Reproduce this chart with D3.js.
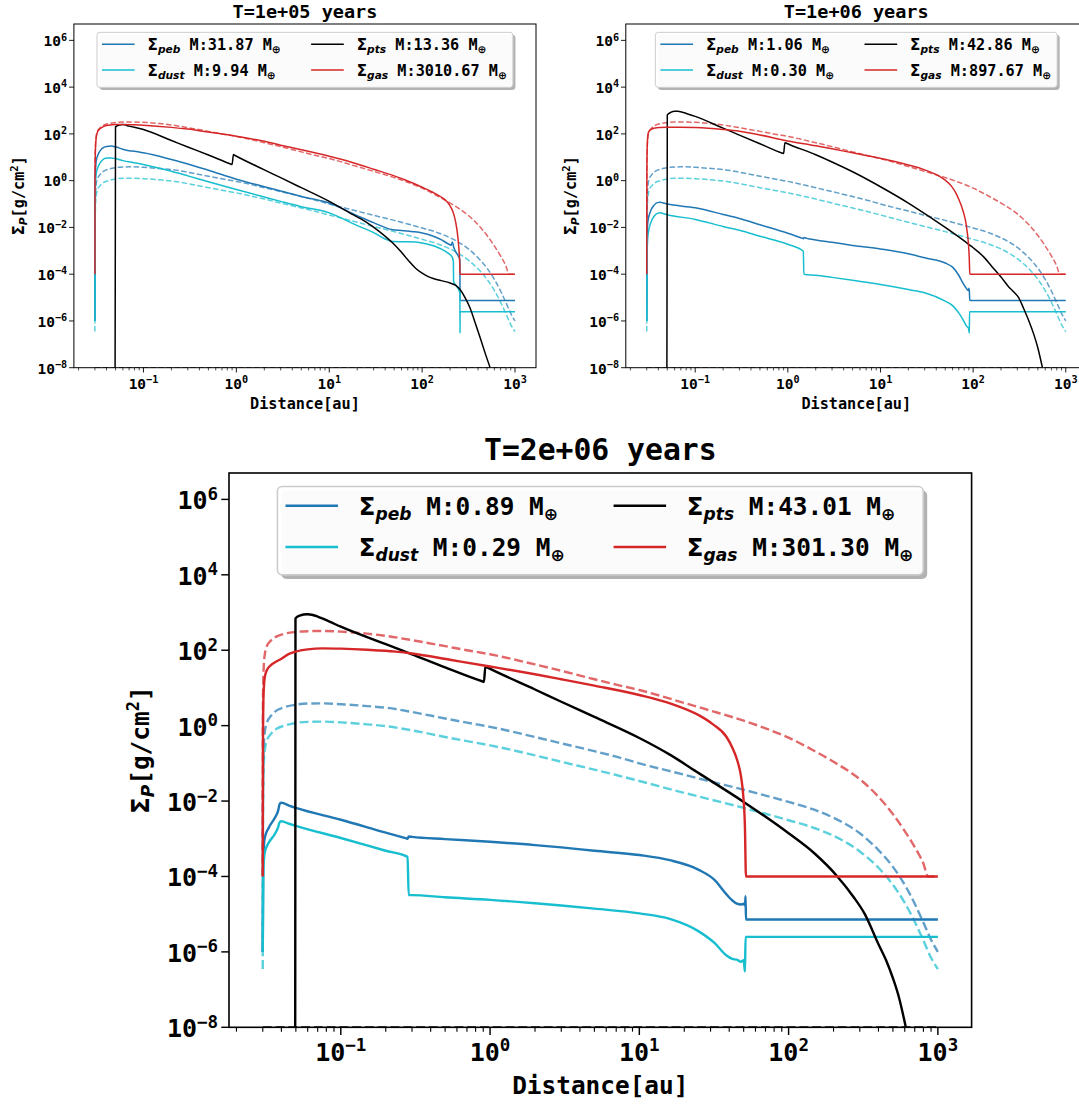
<!DOCTYPE html>
<html>
<head>
<meta charset="utf-8">
<script src="https://cdn.jsdelivr.net/npm/d3@7"></script>
<style>
  body { margin: 0; background: #fff; }
  text { white-space: pre; }
</style>
</head>
<body>
<div id="chart"></div>
<script>
// ---------- Data ----------
const titles = ['T=1e+05 years', 'T=1e+06 years', 'T=2e+06 years'];
const xTicks = [1e-1, 1e0, 1e1, 1e2, 1e3];
const yTicks = [1e-8, 1e-6, 1e-4, 1e-2, 1e0, 1e2, 1e4, 1e6];
const seriesNames = ['peb', 'dust', 'pts', 'gas'];
const colors = ['#1f77b4', '#17becf', '#000000', '#d62728'];

// legend masses [Earth masses], one per snapshot
const massPeb = ['31.87', '1.06', '0.89'];
const massDust = ['9.94', '0.30', '0.29'];
const massPts = ['13.36', '42.86', '43.01'];
const massGas = ['3010.67', '897.67', '301.30'];

// initial profiles (dashed), [r au, sigma g/cm2]
const gasInit = [[0.03,1e-4],[0.0301,5],[0.0305,40],[0.031,80],[0.032,130],[0.034,180],[0.037,230],[0.042,275],[0.05,305],[0.06,320],[0.075,325],[0.1,312],[0.15,275],[0.2,240],[0.3,185],[0.5,128],[0.7,100],[1,78],[2,42],[3,28.5],[5,17],[7,12.2],[10,8.8],[20,4],[30,2.5],[50,1.35],[70,0.85],[100,0.48],[150,0.21],[200,0.11],[300,0.038],[400,0.013],[500,4.5e-3],[600,1.6e-3],[700,6e-4],[800,2.2e-4],[860,1e-4],[1000,1e-4]];
const pebInit = [[0.03,1e-6],[0.0301,0.01],[0.0305,0.3],[0.031,0.7],[0.032,1.2],[0.034,1.8],[0.037,2.5],[0.042,3.1],[0.05,3.6],[0.06,3.85],[0.075,3.9],[0.1,3.7],[0.15,3.3],[0.2,3.0],[0.3,2.3],[0.5,1.55],[0.7,1.2],[1,0.93],[2,0.5],[3,0.34],[5,0.21],[7,0.15],[10,0.1],[20,0.05],[30,0.033],[50,0.02],[70,0.014],[100,9.5e-3],[150,5.8e-3],[200,3.6e-3],[300,1.4e-3],[400,5e-4],[500,1.8e-4],[600,6e-5],[700,1.9e-5],[800,6e-6],[900,2.1e-6],[1000,1e-6]];
const dustInit = [[0.03,3.5e-7],[0.0301,3e-3],[0.0305,0.1],[0.031,0.23],[0.032,0.4],[0.034,0.6],[0.037,0.82],[0.042,1.0],[0.05,1.18],[0.06,1.26],[0.075,1.28],[0.1,1.22],[0.15,1.08],[0.2,0.97],[0.3,0.75],[0.5,0.5],[0.7,0.39],[1,0.3],[2,0.163],[3,0.11],[5,0.068],[7,0.049],[10,0.034],[20,0.0165],[30,0.011],[50,6.6e-3],[70,4.6e-3],[100,3.1e-3],[150,1.9e-3],[200,1.2e-3],[300,4.6e-4],[400,1.7e-4],[500,6e-5],[600,2e-5],[700,6.3e-6],[800,2e-6],[900,7e-7],[1000,3.5e-7]];
const ptsInit = [[0.03,1e-8],[1000,1e-8]];

// T = 1e5 yr
const peb1e5 = [[0.03,1e-6],[0.0302,0.5],[0.0305,3],[0.031,7],[0.033,15],[0.036,24],[0.04,29],[0.045,30],[0.05,28],[0.06,22],[0.07,19],[0.08,18],[0.1,15.5],[0.2,8],[0.3,5.2],[0.5,2.8],[1,1.15],[2,0.55],[3,0.36],[5,0.21],[10,0.11],[20,0.032],[30,0.016],[48,8e-3],[60,7.4e-3],[80,6.6e-3],[100,5.8e-3],[130,4.3e-3],[160,3e-3],[190,2e-3],[203,1.75e-3],[205,1.7e-3],[212,2.4e-3],[218,1.5e-3],[230,9e-4],[245,6e-4],[255,4e-4],[256,7.5e-6],[1000,7.5e-6]];
const dust1e5 = [[0.03,1e-6],[0.0302,0.1],[0.0305,0.8],[0.031,2],[0.033,4.5],[0.036,7.5],[0.04,9.2],[0.045,9.4],[0.05,8.8],[0.06,7.2],[0.08,5.8],[0.1,4.9],[0.2,2.5],[0.3,1.6],[0.5,0.9],[1,0.42],[2,0.2],[3,0.13],[5,0.077],[10,0.042],[20,0.012],[30,6e-3],[40,3.2e-3],[48,2.5e-3],[60,2.45e-3],[85,2.4e-3],[110,2e-3],[135,1.6e-3],[160,1.2e-3],[190,8e-4],[210,5.5e-4],[217,3.4e-4],[218,5e-5],[235,3e-5],[250,2e-5],[255,1.5e-5],[256,3e-7],[256.5,2.5e-6],[1000,2.5e-6]];
const pts1e5 = [[0.0495,1e-8],[0.05,200],[0.055,240],[0.06,250],[0.07,215],[0.1,153],[0.2,52],[0.3,27.5],[0.5,12.5],[0.895,4.94],[0.9,4.9],[0.93,13],[0.935,12.85],[2,2.9],[3,1.34],[5,0.5],[10,0.13],[18,0.035],[25,0.017],[35,6.5e-3],[48,2.2e-3],[58,1.0e-3],[66,5.5e-4],[74,3.2e-4],[85,1.8e-4],[100,1.1e-4],[115,8e-5],[132,6.5e-5],[160,5.3e-5],[200,4.2e-5],[230,3.3e-5],[256,2.2e-5],[290,1e-5],[329,3.5e-6],[370,9e-7],[420,2e-7],[470,5e-8],[540,1e-8]];
const gas1e5 = [[0.03,1e-4],[0.0301,2],[0.0305,30],[0.031,70],[0.032,120],[0.034,165],[0.037,205],[0.042,235],[0.05,250],[0.06,252],[0.08,245],[0.1,235],[0.2,190],[0.3,160],[0.5,120],[1,80],[2,48],[3,33],[5,21],[10,11],[20,5.2],[30,3.1],[50,1.6],[66,1.06],[100,0.52],[130,0.32],[160,0.2],[184,0.13],[205,0.07],[220,0.035],[237,8e-3],[248,1.5e-3],[254,3e-4],[256,1e-4],[1000,1e-4]];

// T = 1e6 yr
const peb1e6 = [[0.03,1e-6],[0.0302,3e-3],[0.0305,0.01],[0.031,0.02],[0.033,0.05],[0.036,0.09],[0.039,0.115],[0.042,0.12],[0.045,0.11],[0.05,0.1],[0.1,0.069],[0.2,0.036],[0.3,0.024],[0.5,0.013],[1,5.6e-3],[1.46,3.33e-3],[1.47,3.3e-3],[1.5,3.7e-3],[1.6,3.4e-3],[2,2.9e-3],[3,2.3e-3],[5,1.7e-3],[10,1.2e-3],[20,7.5e-4],[30,5e-4],[50,3e-4],[60,2e-4],[70,9e-5],[78,4e-5],[85,2.4e-5],[89,2e-5],[90,2.5e-5],[91,2e-5],[92,7.5e-6],[1000,7.5e-6]];
const dust1e6 = [[0.03,1e-6],[0.0302,5e-4],[0.0305,2e-3],[0.031,5e-3],[0.033,0.015],[0.036,0.03],[0.039,0.04],[0.042,0.042],[0.045,0.039],[0.05,0.035],[0.1,0.022],[0.2,0.011],[0.3,7.5e-3],[0.5,4.2e-3],[1,1.9e-3],[1.47,9.6e-4],[1.49,1e-4],[2,9e-5],[3,7.3e-5],[5,5.5e-5],[10,3.6e-5],[20,2.2e-5],[30,1.6e-5],[50,7e-6],[60,4.5e-6],[70,2.2e-6],[78,1.1e-6],[85,6e-7],[89,5e-7],[91,3e-7],[91.5,2.5e-6],[1000,2.5e-6]];
const pts1e6 = [[0.0495,1e-8],[0.05,650],[0.055,850],[0.06,930],[0.065,920],[0.08,750],[0.1,560],[0.2,176],[0.3,89],[0.5,38],[0.895,14.5],[0.9,14.4],[0.93,42],[0.935,41.6],[2,12.8],[3,6.3],[5,2.4],[10,0.55],[20,0.11],[30,0.039],[50,0.01],[70,3.9e-3],[91,1.8e-3],[100,1.35e-3],[130,5.5e-4],[160,2.1e-4],[200,7.5e-5],[240,3e-5],[280,1.6e-5],[310,1e-5],[350,3.5e-6],[400,1e-6],[450,2.8e-7],[500,7e-8],[560,1e-8]];
const gas1e6 = [[0.03,1e-4],[0.0301,2],[0.0303,20],[0.0306,60],[0.031,100],[0.032,135],[0.034,160],[0.037,178],[0.042,188],[0.05,193],[0.07,194],[0.1,188],[0.2,155],[0.3,130],[0.5,90],[1,50],[2,31],[3,23],[5,15.5],[7,12],[10,9],[15,6.3],[20,4.7],[30,2.9],[40,1.8],[50,1.05],[58,0.6],[65,0.3],[70,0.16],[75,0.08],[80,0.035],[84,0.014],[87,5e-3],[89.5,1.5e-3],[91,4e-4],[92,1e-4],[1000,1e-4]];

// T = 2e6 yr
const peb2e6 = [[0.03,1e-6],[0.0302,2e-4],[0.0305,6e-4],[0.031,1.1e-3],[0.033,2e-3],[0.036,3.5e-3],[0.038,5.5e-3],[0.039,8.5e-3],[0.04,9e-3],[0.045,7.6e-3],[0.05,6.6e-3],[0.1,3.2e-3],[0.2,1.45e-3],[0.275,1.02e-3],[0.28,1.0e-3],[0.285,1.15e-3],[0.3,1.12e-3],[0.5,9.8e-4],[1,8.3e-4],[2,6.8e-4],[3,5.9e-4],[5,4.8e-4],[10,3.7e-4],[16,2.7e-4],[25,1.5e-4],[32,8e-5],[38,3.5e-5],[42,2.3e-5],[45,1.9e-5],[48,1.8e-5],[50,1.9e-5],[51,1.7e-5],[51.5,3e-5],[51.8,7.2e-6],[1000,7.2e-6]];
const dust2e6 = [[0.03,1e-6],[0.0302,8e-5],[0.0305,2.5e-4],[0.031,4.5e-4],[0.033,8e-4],[0.036,1.3e-3],[0.038,2e-3],[0.039,2.8e-3],[0.04,2.9e-3],[0.045,2.5e-3],[0.05,2.2e-3],[0.1,1.05e-3],[0.2,4.8e-4],[0.28,3.3e-4],[0.285,3.2e-5],[0.3,3.2e-5],[0.5,2.8e-5],[1,2.4e-5],[2,1.95e-5],[3,1.7e-5],[5,1.4e-5],[10,1.05e-5],[16,7.5e-6],[25,3.5e-6],[32,1.7e-6],[38,8.3e-7],[42,6.5e-7],[45,6.2e-7],[48,5.5e-7],[50,6e-7],[51,3e-7],[51.5,2.5e-6],[1000,2.5e-6]];
const pts2e6 = [[0.0495,1e-8],[0.0497,700],[0.053,830],[0.0597,900],[0.065,860],[0.07,780],[0.084,575],[0.1,420],[0.2,145],[0.3,78],[0.5,35],[0.905,14.6],[0.91,14.5],[0.93,37],[0.935,36.6],[2,9.1],[3,4.3],[5,1.7],[10,0.47],[16,0.17],[25,0.055],[50,9.5e-3],[100,1.4e-3],[150,4e-4],[210,1.05e-4],[270,3e-5],[322,1.05e-5],[400,1.6e-6],[450,6e-7],[500,2e-7],[550,6e-8],[610,1e-8]];
const gas2e6 = [[0.03,1e-4],[0.0301,0.5],[0.0303,5],[0.0306,12],[0.031,20],[0.032,30],[0.034,40],[0.037,50],[0.039,56],[0.045,80],[0.05,92],[0.06,105],[0.075,112],[0.1,110],[0.15,103],[0.233,92],[0.3,82],[0.55,55],[1,37],[2,23],[3,17],[5,11.5],[10,6.5],[16.4,3.8],[25,1.9],[31,1.1],[38.4,0.5],[42,0.26],[45.6,0.11],[48,0.045],[49.6,0.015],[51,2e-3],[51.8,1e-4],[1000,1e-4]];

// ---------- Layout ----------
const MONO = "'DejaVu Sans Mono', monospace";
const SANS = "'DejaVu Sans', sans-serif";

const panels = [
  { left: 73.9, right: 536, top: 24, bottom: 367.7, s: 1, titleGap: 6.5, tickFs: 14.5,
    series: [peb1e5, dust1e5, pts1e5, gas1e5] },
  { left: 625.8, right: 1086.7, top: 24, bottom: 367.7, s: 1, titleGap: 6.5, tickFs: 14.5,
    series: [peb1e6, dust1e6, pts1e6, gas1e6] },
  { left: 229, right: 971.6, top: 473, bottom: 1027.3, s: 1.607, titleGap: 13.4, tickFs: 25,
    series: [peb2e6, dust2e6, pts2e6, gas2e6] }
];
const initSeries = [pebInit, dustInit, ptsInit, gasInit];
const masses = [massPeb, massDust, massPts, massGas];

const svg = d3.select('#chart')
  .append('svg')
  .attr('width', 1079)
  .attr('height', 1104)

// writes mathtext-like runs (sub/superscripts) into a text element
function addRich(textSel, parts, fs) {
  let shift = 0;
  parts.forEach(p => {
    const target = p.mode === 'sub' ? 0.2 * fs : p.mode === 'sup' ? -0.38 * fs : 0;
    textSel.append('tspan')
      .attr('dy', target - shift)
      .attr('font-size', p.mode ? fs * 0.7 : fs)
      .attr('font-family', p.sans ? SANS : MONO)
      .attr('font-style', p.italic ? 'italic' : 'normal')
      .text(p.t);
    shift = target;
  });
}

function sup(v) {
  const e = Math.round(Math.log10(v));
  return (e < 0 ? '\u2212' : '') + Math.abs(e);
}

panels.forEach((p, i) => {
  const s = p.s;
  const labelFs = 15.2 * s, tickFs = p.tickFs, titleFs = 18.5 * s;
  const lw = 1.5 * s;

  const xScale = d3.scaleLog()
    .domain([10 ** -1.749, 10 ** 3.226])
    .range([p.left, p.right])
  const yScale = d3.scaleLog()
    .domain([1e-8, 10 ** 6.7])
    .range([p.bottom, p.top])

  const g = svg.append('g').attr('font-weight', 'bold')

  g.append('clipPath').attr('id', 'clip' + i)
    .append('rect')
    .attr('x', p.left).attr('y', p.top)
    .attr('width', p.right - p.left).attr('height', p.bottom - p.top)

  const lineGenerator = d3.line()
    .x(d => xScale(d[0]))
    .y(d => yScale(d[1]))
    .curve(d3.curveMonotoneX)

  const plot = g.append('g').attr('clip-path', `url(#clip${i})`)

  // initial profiles, dashed
  initSeries.forEach((data, k) => {
    plot.append('path')
      .datum(data)
      .attr('d', lineGenerator)
      .attr('fill', 'none')
      .attr('stroke', colors[k])
      .attr('stroke-opacity', 0.7)
      .attr('stroke-width', lw)
      .attr('stroke-dasharray', `${3.7 * lw},${1.6 * lw}`)
  })

  // current profiles
  p.series.forEach((data, k) => {
    plot.append('path')
      .datum(data)
      .attr('d', lineGenerator)
      .attr('fill', 'none')
      .attr('stroke', colors[k])
      .attr('stroke-width', lw)
      .attr('stroke-linejoin', 'round')
  })

  // spines
  g.append('rect')
    .attr('x', p.left).attr('y', p.top)
    .attr('width', p.right - p.left).attr('height', p.bottom - p.top)
    .attr('fill', 'none')
    .attr('stroke', '#000')
    .attr('stroke-width', 1 * s)

  // x ticks (major + minor)
  const minor = xScale.ticks().filter(v => {
    const m = v / 10 ** Math.floor(Math.log10(v) + 1e-9);
    return Math.abs(m - 1) > 1e-6;
  });
  minor.forEach(v => {
    g.append('line')
      .attr('x1', xScale(v)).attr('x2', xScale(v))
      .attr('y1', p.bottom).attr('y2', p.bottom + 2.7 * s)
      .attr('stroke', '#000').attr('stroke-width', 0.7 * s)
  })
  xTicks.forEach(v => {
    g.append('line')
      .attr('x1', xScale(v)).attr('x2', xScale(v))
      .attr('y1', p.bottom).attr('y2', p.bottom + 4.8 * s)
      .attr('stroke', '#000').attr('stroke-width', 0.9 * s)
    const t = g.append('text')
      .attr('x', xScale(v))
      .attr('y', p.bottom + 20.8 * s)
      .attr('text-anchor', 'middle')
    addRich(t, [{ t: '10' }, { t: sup(v), mode: 'sup' }], tickFs)
  })

  // y ticks
  yTicks.forEach(v => {
    g.append('line')
      .attr('x1', p.left - 4.8 * s).attr('x2', p.left)
      .attr('y1', yScale(v)).attr('y2', yScale(v))
      .attr('stroke', '#000').attr('stroke-width', 0.9 * s)
    const t = g.append('text')
      .attr('x', p.left - 6.8 * s)
      .attr('y', yScale(v) + 0.4 * tickFs)
      .attr('text-anchor', 'end')
    addRich(t, [{ t: '10' }, { t: sup(v), mode: 'sup' }], tickFs)
  })

  // title
  g.append('text')
    .attr('x', (p.left + p.right) / 2)
    .attr('y', p.top - p.titleGap)
    .attr('text-anchor', 'middle')
    .attr('font-family', MONO)
    .attr('font-size', titleFs)
    .text(titles[i])

  // x label
  g.append('text')
    .attr('x', (p.left + p.right) / 2)
    .attr('y', p.bottom + 41.6 * s)
    .attr('text-anchor', 'middle')
    .attr('font-family', MONO)
    .attr('font-size', labelFs)
    .text('Distance[au]')

  // y label
  const yl = g.append('text')
    .attr('transform', `translate(${p.left - 50 * s}, ${(p.top + p.bottom) / 2}) rotate(-90)`)
    .attr('text-anchor', 'middle')
  addRich(yl, [
    { t: '\u03A3', sans: true },
    { t: 'P', sans: true, italic: true, mode: 'sub' },
    { t: '[g/cm' },
    { t: '2', mode: 'sup' },
    { t: ']' }
  ], labelFs)

  // legend
  const f = labelFs;
  const lg = g.append('g')
  const shadow = lg.append('rect')
  const frame = lg.append('rect')
  const texts = seriesNames.map((name, k) => {
    const t = lg.append('text')
    addRich(t, [
      { t: '\u03A3', sans: true },
      { t: name, sans: true, italic: true, mode: 'sub' },
      { t: ` M:${masses[k][i]} M` },
      { t: '\u2295', sans: true, mode: 'sub' }
    ], f)
    return t;
  });
  const widths = texts.map(t => t.node().getComputedTextLength());
  const col1W = Math.max(widths[0], widths[1]);
  const col2W = Math.max(widths[2], widths[3]);
  const handleL = 2.15 * f, lPad = 0.33 * f, htPad = 0.85 * f, colSp = 2 * f, rPad = 0.4 * f;
  const boxW = lPad + handleL + htPad + col1W + colSp + handleL + htPad + col2W + rPad;
  const boxH = 3.62 * f;
  const bx = (p.left + p.right) / 2 - boxW / 2;
  const by = p.top + 0.55 * f;
  shadow
    .attr('x', bx + 2.5 * s).attr('y', by + 2.5 * s)
    .attr('width', boxW).attr('height', boxH)
    .attr('rx', 0.2 * f)
    .attr('fill', '#000').attr('fill-opacity', 0.3)
  frame
    .attr('x', bx).attr('y', by)
    .attr('width', boxW).attr('height', boxH)
    .attr('rx', 0.2 * f)
    .attr('fill', '#fff').attr('fill-opacity', 0.95)
    .attr('stroke', '#cccccc').attr('stroke-width', 1 * s)
  const colX = [bx + lPad, bx + lPad + handleL + htPad + col1W + colSp];
  const rowY = [by + 0.79 * f, by + 2.48 * f];
  seriesNames.forEach((name, k) => {
    const cx = colX[Math.floor(k / 2)], cy = rowY[k % 2];
    lg.append('line')
      .attr('x1', cx).attr('x2', cx + handleL)
      .attr('y1', cy).attr('y2', cy)
      .attr('stroke', colors[k]).attr('stroke-width', lw)
    texts[k]
      .attr('x', cx + handleL + htPad)
      .attr('y', cy + 0.365 * f)
  })
})
</script>
</body>
</html>
